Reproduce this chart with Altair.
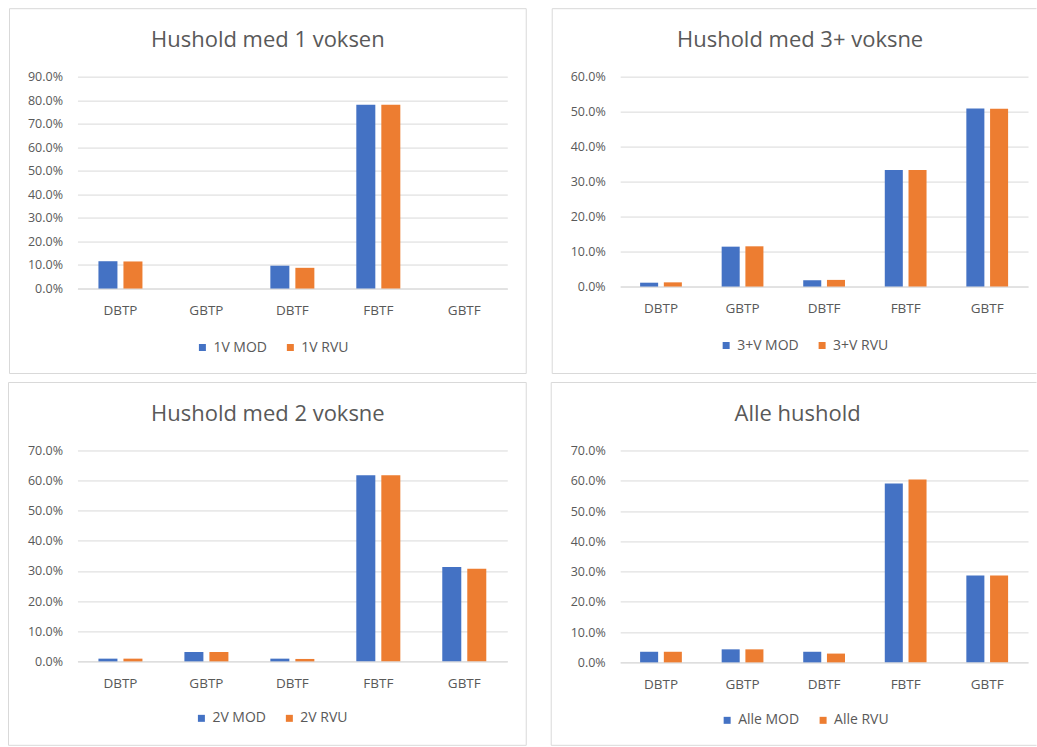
import altair as alt
import pandas as pd

# Categories shared by all four panels
categories = ["DBTP", "GBTP", "DBTF", "FBTF", "GBTF"]

# Panel titles and legend labels
titles = [
    "Hushold med 1 voksen",
    "Hushold med 3+ voksne",
    "Hushold med 2 voksne",
    "Alle hushold",
]
series_names = [
    ["1V MOD", "1V RVU"],
    ["3+V MOD", "3+V RVU"],
    ["2V MOD", "2V RVU"],
    ["Alle MOD", "Alle RVU"],
]

# Shares per category (MOD = model, RVU = survey)
v1_mod = [0.116, 0.0, 0.097, 0.781, 0.0]
v1_rvu = [0.115, 0.0, 0.088, 0.781, 0.0]

v3_mod = [0.011, 0.114, 0.018, 0.333, 0.509]
v3_rvu = [0.012, 0.115, 0.019, 0.333, 0.508]

v2_mod = [0.009, 0.031, 0.009, 0.618, 0.313]
v2_rvu = [0.009, 0.031, 0.008, 0.618, 0.307]

all_mod = [0.035, 0.043, 0.035, 0.591, 0.287]
all_rvu = [0.035, 0.043, 0.029, 0.604, 0.287]

# Y axis tick values per panel
ticks_90 = [0.0, 0.1, 0.2, 0.3, 0.4, 0.5, 0.6, 0.7, 0.8, 0.9]
ticks_60 = [0.0, 0.1, 0.2, 0.3, 0.4, 0.5, 0.6]
ticks_70 = [0.0, 0.1, 0.2, 0.3, 0.4, 0.5, 0.6, 0.7]

BLUE = "#4472C4"
ORANGE = "#ED7D31"
TEXT = "#595959"
GRID = "#D9D9D9"
FONT = "Open Sans"

ONE = pd.DataFrame({"k": [0]})


def frame_lines(x1, x2, y1, y2, right=True):
    """Chart-area outline drawn as separate rules (the right edge is optional)."""
    style = dict(color=GRID, strokeWidth=1)
    parts = [
        alt.Chart(ONE).mark_rule(**style).encode(
            x=alt.value(x1), x2=alt.value(x2), y=alt.value(y1)),
        alt.Chart(ONE).mark_rule(**style).encode(
            x=alt.value(x1), x2=alt.value(x2), y=alt.value(y2)),
        alt.Chart(ONE).mark_rule(**style).encode(
            x=alt.value(x1), y=alt.value(y1), y2=alt.value(y2)),
    ]
    if right:
        parts.append(alt.Chart(ONE).mark_rule(**style).encode(
            x=alt.value(x2), y=alt.value(y1), y2=alt.value(y2)))
    return parts


def panel(title, names, mod, rvu, ticks, size, border, right_edge,
          title_pos, legend_pos):
    w, h = size
    df = pd.DataFrame({
        "cat": categories * 2,
        "series": [names[0]] * len(categories) + [names[1]] * len(categories),
        "value": mod + rvu,
    })

    bars = alt.Chart(df).mark_bar(strokeWidth=0).encode(
        x=alt.X(
            "cat:N",
            sort=categories,
            scale=alt.Scale(paddingInner=0.488, paddingOuter=0.244),
            axis=alt.Axis(
                title=None, labelAngle=0, ticks=False, tickSize=0,
                labelPadding=15, labelFontSize=13.5, grid=False,
                domain=True, domainColor=GRID,
            ),
        ),
        xOffset=alt.XOffset(
            "series:N", sort=names,
            scale=alt.Scale(paddingInner=0.24, paddingOuter=0),
        ),
        y=alt.Y(
            "value:Q",
            scale=alt.Scale(domain=[ticks[0], ticks[-1]], nice=False),
            axis=alt.Axis(
                title=None, format=".1%", values=ticks, ticks=False,
                tickSize=0, labelPadding=15, labelFontSize=12.5,
                domain=False, grid=True,
            ),
        ),
        color=alt.Color(
            "series:N",
            sort=names,
            scale=alt.Scale(domain=names, range=[BLUE, ORANGE]),
            legend=alt.Legend(
                title=None, orient="none", direction="horizontal",
                legendX=legend_pos[0], legendY=legend_pos[1],
                symbolType="square", symbolSize=49, symbolStrokeWidth=0,
                labelFont=FONT, labelFontSize=14, labelColor=TEXT,
                labelOffset=4, columnPadding=16, padding=0,
            ),
        ),
    )

    heading = alt.Chart(pd.DataFrame({"t": [title]})).mark_text(
        font=FONT, fontSize=22, color=TEXT, align="center",
        baseline="alphabetic",
    ).encode(
        text="t:N", x=alt.value(title_pos[0]), y=alt.value(title_pos[1])
    )

    layers = frame_lines(*border, right=right_edge) + [bars, heading]
    return alt.layer(*layers).properties(width=w, height=h)


p1 = panel(titles[0], series_names[0], v1_mod, v1_rvu, ticks_90,
           (430, 212), (-68, 449, -68, 297), True, (190.5, -29.5), (118, 264))
p2 = panel(titles[1], series_names[1], v3_mod, v3_rvu, ticks_60,
           (408, 210), (-68, 416.5, -68, 297), False, (180, -29.5), (99, 262))
p3 = panel(titles[2], series_names[2], v2_mod, v2_rvu, ticks_70,
           (430, 211), (-69, 449, -68, 295), True, (190.5, -29), (117, 261))
p4 = panel(titles[3], series_names[3], all_mod, all_rvu, ticks_70,
           (408, 212), (-69, 416.5, -68, 295), False, (177.5, -29), (100, 263))

chart = alt.concat(
    p1, p2, p3, p4, columns=2,
    spacing={"row": 162, "column": 113}, bounds="flush",
).resolve_scale(
    x="independent", y="independent", color="independent",
    xOffset="independent",
).resolve_legend(
    color="independent"
).properties(
    padding={"left": 7.5, "top": 7.5, "right": 0, "bottom": 0},
    background="white",
).configure_view(
    strokeWidth=0
).configure_axis(
    labelFont=FONT, labelColor=TEXT, gridColor=GRID, gridWidth=1,
)

chart.save("out.html", embed_options={"renderer": "svg", "actions": False})
